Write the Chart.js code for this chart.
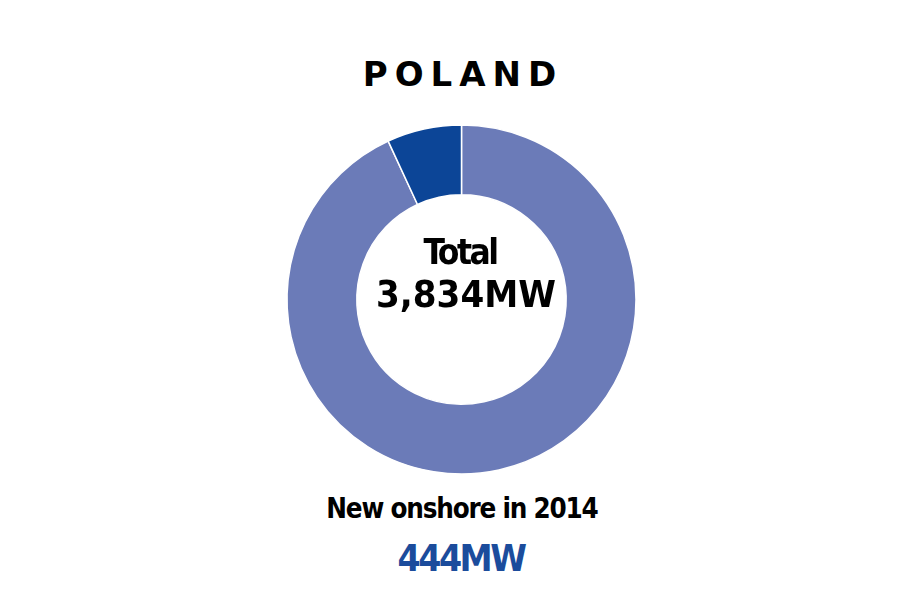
<!DOCTYPE html>
<html>
<head>
<meta charset="utf-8">
<script src="https://cdn.jsdelivr.net/npm/chart.js@4"></script>
<style>
  html, body { margin: 0; padding: 0; background: #fff; }
  body { width: 920px; height: 612px; position: relative; overflow: hidden; }
  .txt { position: absolute; left: 0; width: 922px; text-align: center; white-space: nowrap; }
  #title { top: 54px; left: 2px; font: bold 34px "DejaVu Sans", sans-serif; letter-spacing: 7px; color: #000; }
  #total { top: 232px; left: -1px; font: bold 35px "DejaVu Sans Condensed", sans-serif; letter-spacing: -2.5px; color: #000; }
  #totalVal { top: 272px; left: 5px; font: bold 38px "DejaVu Sans Condensed", sans-serif; color: #000; }
  #newLabel { top: 492px; left: 1px; font: bold 27.5px "DejaVu Sans Condensed", sans-serif; letter-spacing: -1.2px; color: #000; }
  #newVal { top: 537px; left: 0px; font: bold 37px "DejaVu Sans Condensed", sans-serif; letter-spacing: -2.5px; color: #1b4c9c; }
  #wrap { position: absolute; left: 281px; top: 119px; width: 361px; height: 361px; }
</style>
</head>
<body>
<div id="title" class="txt">POLAND</div>
<div id="wrap"><canvas id="ring" width="361" height="361"></canvas></div>
<div id="total" class="txt">Total</div>
<div id="totalVal" class="txt">3,834MW</div>
<div id="newLabel" class="txt">New onshore in 2014</div>
<div id="newVal" class="txt">444MW</div>
<script>
// share of the ring (percent)
const segments = ["Installed before 2014", "New onshore in 2014"];
const shares = [93.1, 6.9];
const segmentColors = ["#6b7bb8", "#0c4597"];

const ctx = document.getElementById("ring");
new Chart(ctx, {
  type: "doughnut",
  data: {
    labels: segments,
    datasets: [
      {
        data: shares,
        backgroundColor: segmentColors,
        borderColor: "#ffffff",
        borderWidth: 1.5,
      },
    ],
  },
  options: {
    responsive: false,
    animation: false,
    radius: 174.5,
    cutout: "60%",
    layout: { padding: 0 },
    plugins: {
      legend: { display: false },
      tooltip: { enabled: false },
    },
  },
});
</script>
</body>
</html>
